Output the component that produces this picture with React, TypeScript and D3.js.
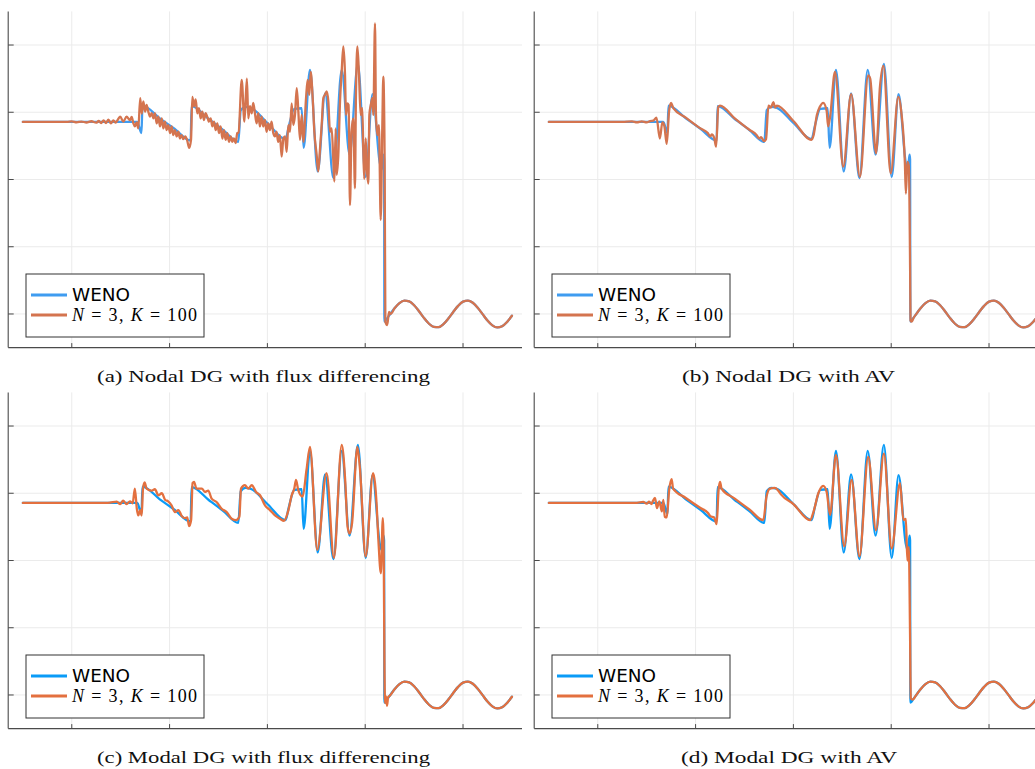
import React from "react";
import * as d3 from "d3";

type Pt = [number, number];

const X_TICKS = [-4, -2, 0, 2, 4];
const Y_TICKS = [1, 2, 3, 4, 5];
const X_DOMAIN: [number, number] = [-5.3, 5.3];
const Y_DOMAIN: [number, number] = [0.5, 5.5];
const SERIES_NAMES = ["WENO", "N = 3, K = 100"];
const CAPTIONS = [
  "(a) Nodal DG with flux differencing",
  "(b) Nodal DG with AV",
  "(c) Modal DG with flux differencing",
  "(d) Modal DG with AV",
];

// undisturbed entropy wave ahead of the shock
const SINE_TAIL: Pt[] = [
  [2.6, 1.084], [2.7, 1.161], [2.8, 1.198], [2.9, 1.187], [3.0, 1.13], [3.1, 1.041],
  [3.2, 0.942], [3.3, 0.858], [3.4, 0.808], [3.5, 0.804], [3.6, 0.85], [3.7, 0.932],
  [3.8, 1.03], [3.9, 1.121], [4.0, 1.183], [4.1, 1.199], [4.2, 1.167], [4.3, 1.094],
  [4.4, 0.998], [4.5, 0.903], [4.6, 0.831], [4.7, 0.8], [4.8, 0.819], [4.9, 0.882], [5.0, 0.974],
];

const WENO: Pt[] = [
  [-5.0, 3.857], [-2.66, 3.857], [-2.575, 3.69], [-2.555, 4.1], [-2.2, 3.91], [-1.9, 3.754],
  [-1.57, 3.58], [-1.55, 4.09], [-1.2, 3.9], [-0.9, 3.735], [-0.595, 3.56], [-0.545, 4.03],
  [-0.45, 4.08], [-0.35, 4.07], [0.0, 3.84], [0.37, 3.6], [0.44, 3.8], [0.55, 4.05], [0.7, 4.06],
  [0.74, 3.47], [0.87, 4.63], [1.03, 3.12], [1.18, 4.28], [1.35, 3.02], [1.52, 4.63], [1.68, 3.37],
  [1.85, 4.72], [2.01, 3.04], [2.15, 4.27], [2.3, 3.24], [2.34, 3.15], [2.375, 3.37], [2.386, 3.3],
  [2.392, 0.885], [2.45, 0.938], [2.5, 0.987],
];

const NODAL_FD: Pt[] = [
  [-5.0, 3.857], [-4.1, 3.857], [-4.0, 3.865], [-3.9, 3.85], [-3.8, 3.862], [-3.7, 3.848],
  [-3.6, 3.866], [-3.5, 3.845], [-3.45, 3.87], [-3.4, 3.84], [-3.35, 3.88], [-3.3, 3.84],
  [-3.25, 3.89], [-3.2, 3.835], [-3.15, 3.88], [-3.1, 3.845], [-3.05, 3.9],
  [-3.01, 3.935], [-2.946, 3.86], [-2.88, 3.935], [-2.81, 3.885], [-2.775, 3.93], [-2.74, 3.835],
  [-2.71, 3.79], [-2.673, 3.85], [-2.64, 3.76], [-2.6, 4.21], [-2.57, 3.98], [-2.537, 4.16],
  [-2.5, 4.01], [-2.47, 4.11], [-2.435, 4.01], [-2.4, 3.935], [-2.367, 3.985], [-2.33, 3.91],
  [-2.3, 3.985], [-2.264, 3.835], [-2.23, 3.935], [-2.196, 3.79], [-2.16, 3.91], [-2.128, 3.76],
  [-2.094, 3.86], [-2.06, 3.735], [-2.026, 3.81], [-1.99, 3.69], [-1.958, 3.79], [-1.924, 3.66],
  [-1.89, 3.735], [-1.856, 3.64], [-1.82, 3.71], [-1.788, 3.61], [-1.754, 3.66], [-1.72, 3.6],
  [-1.68, 3.64], [-1.64, 3.58], [-1.6, 3.47], [-1.562, 3.59], [-1.535, 4.23], [-1.5, 4.09],
  [-1.467, 4.19], [-1.433, 3.985], [-1.4, 4.06], [-1.365, 3.91], [-1.33, 4.01], [-1.297, 3.885],
  [-1.263, 3.985], [-1.23, 3.935], [-1.195, 3.86], [-1.16, 3.91], [-1.126, 3.79], [-1.092, 3.86],
  [-1.058, 3.735], [-1.024, 3.835], [-0.99, 3.69], [-0.956, 3.79], [-0.92, 3.61], [-0.888, 3.735],
  [-0.854, 3.59], [-0.82, 3.69], [-0.786, 3.56], [-0.75, 3.64], [-0.718, 3.56], [-0.684, 3.61],
  [-0.65, 3.54], [-0.616, 3.69], [-0.59, 3.7], [-0.525, 4.48], [-0.47, 3.86], [-0.42, 4.5],
  [-0.39, 3.91], [-0.357, 4.09], [-0.32, 3.985], [-0.29, 4.14], [-0.255, 3.985], [-0.22, 3.835],
  [-0.187, 3.985], [-0.153, 3.79], [-0.119, 3.935], [-0.085, 3.79], [-0.051, 3.885], [-0.017, 3.71],
  [0.017, 3.835], [0.051, 3.735], [0.085, 3.86], [0.12, 3.69], [0.153, 3.64], [0.187, 3.71],
  [0.22, 3.56], [0.255, 3.66], [0.292, 3.34], [0.326, 3.61], [0.36, 3.64], [0.394, 3.41],
  [0.428, 3.81], [0.462, 3.71], [0.496, 4.13], [0.53, 3.81], [0.564, 3.96], [0.6, 4.36],
  [0.633, 4.01], [0.667, 3.59], [0.7, 3.96], [0.735, 3.56], [0.79, 4.21], [0.823, 4.48],
  [0.857, 4.26], [0.885, 4.6], [0.926, 4.21], [0.96, 3.71], [1.008, 3.36], [1.04, 3.12],
  [1.076, 3.46], [1.11, 3.81], [1.144, 4.21], [1.178, 4.26], [1.212, 4.31], [1.246, 4.16],
  [1.28, 3.71], [1.314, 3.76], [1.349, 3.26], [1.37, 2.97], [1.396, 3.76], [1.417, 3.07],
  [1.45, 3.36], [1.485, 4.16], [1.519, 4.61], [1.553, 4.98], [1.587, 4.56], [1.607, 3.96],
  [1.635, 4.13], [1.66, 4.11], [1.689, 2.62], [1.72, 3.71], [1.757, 3.91], [1.79, 2.87],
  [1.81, 4.21], [1.84, 4.98], [1.873, 4.56], [1.907, 3.96], [1.94, 4.06], [1.96, 3.46],
  [1.98, 3.01], [2.01, 3.61], [2.03, 3.21], [2.064, 2.94], [2.085, 3.96], [2.12, 4.13],
  [2.146, 4.21], [2.166, 3.96], [2.2, 5.32], [2.22, 3.96], [2.248, 3.66], [2.28, 3.81],
  [2.317, 2.4], [2.35, 3.81], [2.37, 4.53], [2.398, 3.21], [2.412, 0.886], [2.45, 0.836],
  [2.487, 1.03], [2.52, 1.0],
];

const NODAL_AV: Pt[] = [
  [-5.0, 3.857], [-3.5, 3.857], [-3.3, 3.865], [-3.2, 3.85], [-3.1, 3.865], [-3.0, 3.85],
  [-2.93, 3.87], [-2.865, 3.875], [-2.8, 3.92], [-2.73, 3.61], [-2.68, 3.85], [-2.64, 3.8],
  [-2.59, 3.53], [-2.54, 4.03], [-2.5, 4.14], [-2.456, 4.06], [-2.2, 3.92], [-1.9, 3.76],
  [-1.75, 3.69], [-1.7, 3.64], [-1.67, 3.67], [-1.62, 3.62], [-1.58, 3.49], [-1.535, 4.08],
  [-1.5, 4.1], [-1.2, 3.91], [-0.9, 3.74], [-0.75, 3.66], [-0.7, 3.61], [-0.66, 3.63],
  [-0.6, 3.57], [-0.56, 3.6], [-0.51, 4.1], [-0.46, 4.07], [-0.41, 4.15], [-0.375, 4.07],
  [-0.34, 4.1], [0.0, 3.87], [0.37, 3.59], [0.41, 3.65], [0.48, 3.96], [0.54, 4.08],
  [0.61, 4.14], [0.68, 4.02], [0.71, 3.79], [0.75, 3.93], [0.85, 4.6], [1.02, 3.19],
  [1.18, 4.27], [1.36, 3.04], [1.53, 4.55], [1.57, 4.5], [1.69, 3.39], [1.77, 4.38],
  [1.84, 4.69], [1.99, 3.09], [2.145, 4.23], [2.21, 3.98], [2.28, 3.24], [2.3, 2.79],
  [2.33, 3.26], [2.36, 3.2], [2.386, 1.7], [2.395, 0.9], [2.42, 0.885], [2.46, 0.946],
  [2.5, 0.987],
];

const MODAL_FD: Pt[] = [
  [-5.0, 3.857], [-3.3, 3.857], [-3.22, 3.86], [-3.08, 3.875], [-3.01, 3.84], [-2.95, 3.89],
  [-2.88, 3.84], [-2.81, 3.88], [-2.755, 3.85], [-2.71, 4.07], [-2.67, 3.77], [-2.64, 3.67],
  [-2.6, 3.75], [-2.57, 3.67], [-2.544, 4.07], [-2.51, 4.16], [-2.47, 4.07], [-2.37, 4.04],
  [-2.3, 4.06], [-2.23, 3.97], [-2.16, 4.0], [-2.09, 3.9], [-2.03, 3.88], [-1.96, 3.82],
  [-1.89, 3.72], [-1.82, 3.75], [-1.75, 3.66], [-1.69, 3.63], [-1.64, 3.64], [-1.6, 3.51],
  [-1.56, 3.6], [-1.53, 4.15], [-1.5, 4.17], [-1.45, 4.07], [-1.34, 4.07], [-1.276, 4.02],
  [-1.21, 4.04], [-1.14, 3.92], [-1.04, 3.87], [-0.935, 3.77], [-0.833, 3.72], [-0.73, 3.62],
  [-0.64, 3.6], [-0.573, 3.65], [-0.54, 4.07], [-0.46, 4.12], [-0.39, 4.07], [-0.32, 4.12],
  [-0.233, 4.02], [-0.15, 3.97], [-0.049, 3.82], [0.053, 3.75], [0.156, 3.67], [0.258, 3.62],
  [0.34, 3.59], [0.43, 3.75], [0.497, 3.97], [0.55, 4.07], [0.585, 4.2], [0.63, 4.05],
  [0.72, 3.95], [0.8, 4.35], [0.87, 4.69], [1.02, 3.16], [1.21, 4.3], [1.36, 3.04],
  [1.52, 4.72], [1.59, 4.2], [1.64, 3.5], [1.68, 3.4], [1.73, 3.55], [1.84, 4.69],
  [1.89, 4.39], [2.01, 3.06], [2.16, 4.3], [2.2, 4.15], [2.23, 3.87], [2.27, 3.3],
  [2.32, 2.81], [2.36, 3.63], [2.38, 2.96], [2.394, 1.4], [2.405, 0.88], [2.425, 0.98],
  [2.445, 0.84], [2.47, 0.97], [2.5, 0.987],
];

const MODAL_AV: Pt[] = [
  [-5.0, 3.857], [-3.2, 3.857], [-3.07, 3.87], [-3.0, 3.845], [-2.95, 3.875], [-2.9, 3.84],
  [-2.87, 3.89], [-2.83, 3.93], [-2.79, 3.78], [-2.74, 3.88], [-2.69, 3.73], [-2.66, 3.9],
  [-2.63, 3.65], [-2.59, 3.64], [-2.54, 4.05], [-2.49, 4.21], [-2.46, 4.07], [-2.2, 3.93],
  [-1.9, 3.78], [-1.75, 3.71], [-1.7, 3.66], [-1.62, 3.64], [-1.57, 3.54], [-1.53, 4.05],
  [-1.5, 4.17], [-1.47, 4.07], [-1.2, 3.92], [-0.9, 3.76], [-0.615, 3.6], [-0.55, 3.95],
  [-0.48, 4.07], [-0.38, 4.08], [-0.3, 4.03], [-0.25, 3.98], [0.0, 3.84], [0.34, 3.6],
  [0.41, 3.72], [0.51, 4.0], [0.61, 4.11], [0.68, 4.02], [0.75, 3.68], [0.87, 4.57],
  [1.04, 3.21], [1.19, 4.2], [1.35, 3.06], [1.53, 4.54], [1.69, 3.45], [1.85, 4.59],
  [2.01, 3.18], [2.18, 4.15], [2.25, 3.6], [2.3, 3.62], [2.33, 3.0], [2.36, 3.2],
  [2.385, 1.92], [2.4, 0.95], [2.44, 0.93], [2.5, 0.987],
];

const PLOT_W = 518.4;
const PLOT_H = 336.2;

const PANELS = [
  { left: 8.2, top: 11.4, axisEnd: 522, dg: NODAL_FD, caption: CAPTIONS[0], capX: 263.5, capY: 382, capW: 333, blue: "#3f9cf0", orange: "#d4744f" },
  { left: 534.2, top: 11.4, axisEnd: 1040, dg: NODAL_AV, caption: CAPTIONS[1], capX: 788.5, capY: 382, capW: 213, blue: "#3f9cf0", orange: "#d4744f" },
  { left: 8.2, top: 392.4, axisEnd: 522, dg: MODAL_FD, caption: CAPTIONS[2], capX: 263.5, capY: 762.5, capW: 333, blue: "#0a9bf7", orange: "#e3703f" },
  { left: 534.2, top: 392.4, axisEnd: 1040, dg: MODAL_AV, caption: CAPTIONS[3], capX: 789, capY: 762.5, capW: 216, blue: "#0a9bf7", orange: "#e3703f" },
];

function Panel({ p, idx }: { p: (typeof PANELS)[number]; idx: number }) {
  const right = Math.min(p.left + PLOT_W, p.axisEnd);
  const bottom = p.top + PLOT_H;
  const x = d3.scaleLinear().domain(X_DOMAIN).range([p.left, p.left + PLOT_W]);
  const y = d3.scaleLinear().domain(Y_DOMAIN).range([bottom, p.top]);
  const line = d3
    .line<Pt>()
    .x((d) => x(d[0]))
    .y((d) => y(d[1]))
    .curve(d3.curveMonotoneX);
  const clipId = `plotclip${idx}`;
  const lx = p.left + 17.8;
  const ly = bottom - 73.6;
  const colors = [p.blue, p.orange];
  const axisColor = "#4a4a4a";
  return (
    <g>
      <defs>
        <clipPath id={clipId}>
          <rect x={p.left} y={p.top} width={right - p.left} height={PLOT_H} />
        </clipPath>
      </defs>
      {X_TICKS.map((t) => (
        <line key={"gx" + t} x1={x(t)} x2={x(t)} y1={p.top} y2={bottom} stroke="#ebebeb" strokeWidth={1} />
      ))}
      {Y_TICKS.map((t) => (
        <line key={"gy" + t} x1={p.left} x2={right} y1={y(t)} y2={y(t)} stroke="#ebebeb" strokeWidth={1} />
      ))}
      <g clipPath={`url(#${clipId})`} fill="none" strokeLinejoin="round" strokeLinecap="round">
        <path d={line(WENO.concat(SINE_TAIL)) || ""} stroke={p.blue} strokeWidth={2.3} />
        <path d={line(p.dg.concat(SINE_TAIL)) || ""} stroke={p.orange} strokeWidth={2.3} />
      </g>
      <line x1={p.left} x2={p.left} y1={p.top} y2={bottom} stroke={axisColor} strokeWidth={1.1} />
      <line x1={p.left} x2={right} y1={bottom} y2={bottom} stroke={axisColor} strokeWidth={1.1} />
      {X_TICKS.map((t) => (
        <line key={"tx" + t} x1={x(t)} x2={x(t)} y1={bottom} y2={bottom - 4.5} stroke={axisColor} strokeWidth={1} />
      ))}
      {Y_TICKS.map((t) => (
        <line key={"ty" + t} x1={p.left} x2={p.left + 5.5} y1={y(t)} y2={y(t)} stroke={axisColor} strokeWidth={1} />
      ))}
      <rect x={lx} y={ly} width={178} height={63} fill="#fff" stroke="#333" strokeWidth={1} />
      {SERIES_NAMES.map((name, i) => (
        <g key={name}>
          <line x1={lx + 5} x2={lx + 41} y1={ly + 21 + i * 20} y2={ly + 21 + i * 20} stroke={colors[i]} strokeWidth={3} />
          {i === 0 ? (
            <text x={lx + 46} y={ly + 27} fontFamily="DejaVu Sans" fontSize={17} fill="#000" textLength={58} lengthAdjust="spacingAndGlyphs">
              {name}
            </text>
          ) : (
            <text
              x={lx + 46}
              y={ly + 47}
              fontFamily="Liberation Serif"
              fontSize={18}
              fill="#000"
              textLength={125}
              lengthAdjust="spacing"
            >
              {name.split(/(N|K)/).filter((s) => s.length > 0).map((s, j) => (
                <tspan key={j} fontStyle={s === "N" || s === "K" ? "italic" : "normal"}>
                  {s}
                </tspan>
              ))}
            </text>
          )}
        </g>
      ))}
      <text
        x={p.capX - p.capW / 2}
        y={p.capY}
        fontFamily="Liberation Serif"
        fontSize={17.5}
        fill="#111"
        textLength={p.capW}
        lengthAdjust="spacingAndGlyphs"
      >
        {p.caption}
      </text>
    </g>
  );
}

export default function App() {
  return (
    <svg
      width={1035}
      height={769}
      viewBox="0 0 1035 769"
      style={{ position: "absolute", left: 0, top: 0, background: "#fff" }}
    >
      <rect x={0} y={0} width={1035} height={769} fill="#fff" />
      {PANELS.map((p, i) => (
        <Panel key={i} p={p} idx={i} />
      ))}
    </svg>
  );
}
